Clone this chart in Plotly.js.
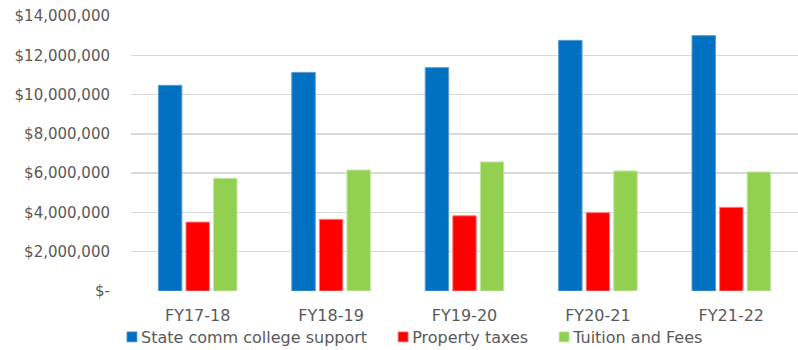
<!DOCTYPE html>
<html>
<head>
<meta charset="utf-8">
<script src="https://cdn.plot.ly/plotly-3.0.1.min.js"></script>
<style>html,body{margin:0;padding:0;background:#fff;}#chart{width:798px;height:350px;}</style>
</head>
<body>
<div id="chart"></div>
<script>
const categories = ["FY17-18", "FY18-19", "FY19-20", "FY20-21", "FY21-22"];
const stateSupport = [10470000, 11130000, 11370000, 12760000, 13000000];
const propertyTaxes = [3510000, 3650000, 3830000, 3990000, 4260000];
const tuitionFees = [5740000, 6160000, 6570000, 6110000, 6060000];
const seriesNames = ["State comm college support", "Property taxes", "Tuition and Fees"];
const yTickVals = [0, 2000000, 4000000, 6000000, 8000000, 10000000, 12000000, 14000000];
const yTickText = ["$-", "$2,000,000", "$4,000,000", "$6,000,000", "$8,000,000", "$10,000,000", "$12,000,000", "$14,000,000"];

const colors = ["#0070C0", "#FF0000", "#92D050"];
const edge = ["#5B9BD5", "#FF7F7F", "#C5E6A6"];
const allValues = [stateSupport, propertyTaxes, tuitionFees];

const traces = allValues.map((vals, i) => ({
  type: "bar",
  name: seriesNames[i],
  x: categories,
  y: vals,
  marker: {color: colors[i], line: {color: edge[i], width: 1}},
  hoverinfo: "x+y"
}));

const yFont = {family: "DejaVu Sans, Verdana, sans-serif", size: 15, color: "#595959"};
const xFont = {family: "DejaVu Sans, Verdana, sans-serif", size: 16, color: "#595959"};

const layout = {
  width: 798, height: 350,
  margin: {l: 131, r: 0, t: 16, b: 59, pad: 0},
  paper_bgcolor: "#ffffff",
  plot_bgcolor: "#ffffff",
  barmode: "group",
  bargap: 0.38,
  bargroupgap: 0.15,
  font: yFont,
  showlegend: true,
  legend: {
    orientation: "h",
    xref: "container", yref: "container",
    x: 101 / 798, xanchor: "left",
    y: 13 / 350, yanchor: "middle",
    font: xFont,
    itemwidth: 30,
    traceorder: "normal",
    borderwidth: 0,
    bgcolor: "rgba(0,0,0,0)"
  },
  xaxis: {
    type: "category",
    showgrid: false,
    zeroline: false,
    showline: false,
    ticks: "",
    tickfont: xFont,
    ticklabelstandoff: 13
  },
  yaxis: {
    range: [0, 14000000],
    tickvals: yTickVals,
    ticktext: yTickText,
    showgrid: true,
    gridcolor: "#D9D9D9",
    gridwidth: 1.5,
    zeroline: false,
    showline: false,
    ticks: "",
    tickfont: yFont,
    ticklabelstandoff: 20
  }
};

Plotly.newPlot("chart", traces, layout, {staticPlot: true, displayModeBar: false}).then(gd => {
  // Excel-style legend keys: small square right next to the label
  gd.querySelectorAll(".legend .legendpoints").forEach(g => {
    g.setAttribute("transform", "translate(14.3,0) scale(0.833)");
  });
});
</script>
</body>
</html>
